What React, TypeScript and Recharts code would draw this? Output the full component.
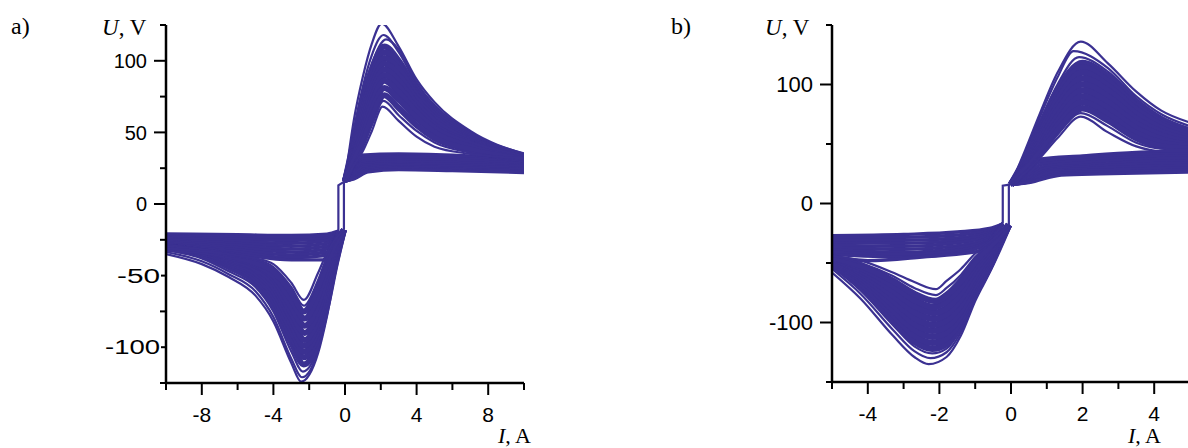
import { LineChart, Line, XAxis, YAxis } from 'recharts';

const INK = '#3b3192';
const FONT = '"Liberation Sans", Arial, sans-serif';
const SERIF = '"Liberation Serif", "Times New Roman", serif';

// each curve is a flat list of I, U pairs (A, V)

// ---- panel a) ----
const A_X_TICKS = [-10, -8, -6, -4, -2, 0, 2, 4, 6, 8, 10];
const A_Y_TICKS = [-125, -100, -75, -50, -25, 0, 25, 50, 75, 100, 125];

const A_POS_OUT = [
  [0, 16, 0.5, 59, 1, 89, 1.5, 112, 2.05, 126, 3, 110, 4, 87, 5, 71, 7, 51, 10, 35],
  [0, 16, 0.5, 52, 1, 82, 1.5, 104, 2.15, 118, 3, 106, 4, 84, 5, 69, 7, 50, 10, 34],
  [0, 16, 0.5, 48, 1, 78, 1.5, 98, 2.3, 115, 3, 108, 4, 85, 5, 68, 7, 49, 10, 34],
  [0, 16, 0.5, 45, 1, 74, 1.5, 94, 2.2, 110, 3, 100, 4, 80, 5, 66, 7, 48, 10, 34],
  [0, 16, 0.5, 42, 1, 70, 1.5, 90, 2.2, 106, 3, 97, 4, 78, 5, 64, 7, 47, 10, 33],
  [0, 16, 0.5, 40, 1, 66, 1.5, 86, 2.2, 102, 3, 94, 4, 76, 5, 62, 7, 46, 10, 33],
  [0, 16, 0.5, 38, 1, 62, 1.5, 82, 2.2, 98, 3, 90, 4, 73, 5, 60, 7, 45, 10, 33],
  [0, 16, 0.5, 36, 1, 58, 1.5, 78, 2.2, 94, 3, 86, 4, 70, 5, 58, 7, 44, 10, 32],
  [0, 16, 0.5, 34, 1, 54, 1.5, 74, 2.2, 90, 3, 82, 4, 67, 5, 55, 7, 43, 10, 32],
  [0, 16, 0.5, 33, 1, 51, 1.5, 70, 2.2, 86, 3, 78, 4, 64, 5, 53, 7, 42, 10, 32],
  [0, 16, 0.5, 31, 1, 47, 1.5, 65, 2.2, 81, 3, 73, 4, 60, 5, 50, 7, 40, 10, 31],
  [0, 16, 0.5, 30, 1, 43, 1.5, 60, 2.2, 76, 3, 67, 4, 55, 5, 46, 7, 38, 10, 31],
  [0, 16, 0.5, 28, 1, 40, 1.5, 55, 2.15, 72, 3, 62, 4, 51, 5, 43, 7, 36, 10, 31],
  [0, 16, 0.5, 27, 1, 37, 1.5, 51, 2.1, 68, 3, 58, 4, 47, 5, 40, 7, 35, 10, 32],
];

const A_POS_BACK = [
  [0, 16, 0.3, 20, 0.9, 34, 3, 35, 6, 34, 10, 31],
  [0, 16, 0.3, 19.5, 1, 32.5, 3, 33.8, 6, 33, 10, 30],
  [0, 16, 0.35, 19, 1, 31, 3, 32.5, 6, 31.8, 10, 29],
  [0, 16, 0.35, 19, 1, 29.5, 3, 31, 6, 30.5, 10, 28],
  [0, 16, 0.4, 19, 1, 28, 3, 29.5, 6, 29, 10, 27],
  [0, 16, 0.4, 18.5, 1, 26.8, 3, 28.2, 6, 27.6, 10, 26],
  [0, 16, 0.4, 18, 1, 25.5, 3, 27, 6, 26.4, 10, 25],
  [0, 16, 0.45, 18, 1.1, 24.5, 3, 25.8, 6, 25.2, 10, 24],
  [0, 16, 0.5, 18, 1.2, 23.5, 3, 24.8, 6, 24.2, 10, 23],
  [0, 16, 0.5, 17.5, 1.3, 22.5, 3, 24, 6, 23.3, 10, 22],
];

const A_NEG_OUT = [
  [-10, -35, -8, -42, -6.5, -51, -5, -64, -4, -82, -3, -111, -2.45, -124, -1.5, -104, -1, -78, -0.5, -45, -0.06, -18],
  [-10, -33.5, -8, -40, -6.5, -49, -5, -61, -4, -79, -3, -108, -2.4, -121, -1.5, -102, -1, -76, -0.5, -44, -0.06, -18],
  [-10, -32, -8, -38, -6.5, -47, -5, -58, -4, -75, -3, -103, -2.35, -117, -1.5, -100, -1, -74, -0.5, -43, -0.06, -18],
  [-10, -31, -8, -36, -6.5, -44, -5, -55, -4, -71, -3, -97, -2.3, -112, -1.5, -96, -1, -71, -0.5, -41, -0.06, -18],
  [-10, -30, -8, -35, -6.5, -42, -5, -52, -4, -67, -3, -92, -2.3, -107, -1.5, -92, -1, -68, -0.5, -40, -0.06, -18],
  [-10, -30, -8, -34, -6.5, -41, -5, -50, -4, -64, -3, -88, -2.3, -103, -1.5, -88, -1, -65, -0.5, -38, -0.06, -18],
  [-10, -30, -8, -34, -6.5, -40, -5, -48, -4, -61, -3, -84, -2.3, -99, -1.5, -84, -1, -62, -0.5, -36, -0.06, -18],
  [-10, -30, -8, -34, -6.5, -39, -5, -46, -4, -58, -3, -80, -2.25, -95, -1.5, -80, -1, -58, -0.5, -34, -0.06, -18],
  [-10, -30, -8, -33, -6.5, -38, -5, -45, -4, -55, -3, -76, -2.25, -90, -1.5, -75, -1, -54, -0.5, -32, -0.06, -18],
  [-10, -30, -8, -33, -6.5, -37, -5, -43, -4, -52, -3, -72, -2.25, -85, -1.5, -70, -1, -50, -0.5, -30, -0.06, -18],
  [-10, -30, -8, -33, -6.5, -37, -5, -42, -4, -50, -3, -67, -2.25, -80, -1.5, -64, -1, -45, -0.5, -28, -0.06, -18],
  [-10, -31, -8, -33, -6.5, -36, -5, -41, -4, -47, -3, -62, -2.3, -75, -1.5, -58, -1, -41, -0.5, -26, -0.06, -18],
  [-10, -31, -8, -33, -6.5, -36, -5, -39, -4, -44, -3, -58, -2.3, -71, -1.5, -53, -1, -37, -0.5, -25, -0.06, -18],
  [-10, -31, -8, -33, -6.5, -35, -5, -38, -4, -42, -3, -55, -2.3, -67, -1.5, -48, -1, -34, -0.5, -24, -0.06, -18],
];

const A_NEG_BACK = [
  [-10, -21, -6, -21.5, -3, -22, -1, -21, -0.37, -19],
  [-10, -22, -6, -23, -3, -23.5, -1, -22.5, -0.37, -19],
  [-10, -23, -6, -24.5, -3, -25.5, -1, -24, -0.37, -19],
  [-10, -24, -6, -26, -3, -27.5, -1, -25.5, -0.37, -19],
  [-10, -25, -6, -27.5, -3, -29.5, -1, -27.5, -0.37, -19],
  [-10, -26, -6, -29, -3, -31.5, -1, -29.5, -0.37, -19],
  [-10, -27, -6, -30.5, -3, -33.5, -1, -31.5, -0.37, -19],
  [-10, -28, -6, -32, -3, -35.5, -1, -33.5, -0.37, -19],
  [-10, -28.5, -6, -33.5, -3, -37.5, -1.1, -36, -0.37, -19],
  [-10, -29, -6, -35, -3, -39, -1.25, -39, -0.6, -28, -0.37, -19],
];

const A_JUMPS = [
  [-0.37, -20, -0.37, 13, 0, 16],
  [-0.06, -18, -0.06, 16, 0.1, 18],
  [10, 22, 10, 35],
  [-10, -21, -10, -35],
];

// ---- panel b) ----
const B_X_TICKS = [-5, -4, -3, -2, -1, 0, 1, 2, 3, 4, 5];
const B_Y_TICKS = [-150, -100, -50, 0, 50, 100, 150];

const B_POS_OUT = [
  [0, 16, 0.4, 45, 0.8, 75, 1.3, 110, 1.95, 136, 2.7, 118, 3.5, 94, 4.2, 78, 5, 68],
  [0, 16, 0.4, 42, 0.8, 72, 1.3, 106, 1.75, 128, 2.7, 114, 3.5, 90, 4.2, 75, 5, 65],
  [0, 16, 0.4, 40, 0.8, 68, 1.3, 100, 1.9, 123, 2.7, 111, 3.5, 88, 4.2, 73, 5, 63],
  [0, 16, 0.4, 38, 0.8, 64, 1.3, 95, 2, 118, 2.7, 107, 3.5, 85, 4.2, 70, 5, 61],
  [0, 16, 0.4, 36, 0.8, 61, 1.3, 91, 2, 114, 2.7, 103, 3.5, 82, 4.2, 68, 5, 59],
  [0, 16, 0.4, 35, 0.8, 58, 1.3, 87, 2, 110, 2.7, 99, 3.5, 79, 4.2, 66, 5, 57],
  [0, 16, 0.4, 33, 0.8, 55, 1.3, 82, 2, 105, 2.7, 95, 3.5, 75, 4.2, 63, 5, 55],
  [0, 16, 0.4, 32, 0.8, 52, 1.3, 78, 2, 100, 2.7, 90, 3.5, 71, 4.2, 60, 5, 53],
  [0, 16, 0.4, 31, 0.8, 49, 1.3, 73, 2, 95, 2.7, 85, 3.5, 67, 4.2, 57, 5, 51],
  [0, 16, 0.4, 30, 0.8, 46, 1.3, 69, 2, 90, 2.7, 80, 3.5, 63, 4.2, 54, 5, 49],
  [0, 16, 0.4, 29, 0.8, 44, 1.3, 65, 2, 85, 2.7, 75, 3.5, 59, 4.2, 51, 5, 48],
  [0, 16, 0.4, 28, 0.8, 42, 1.3, 61, 2, 80, 2.7, 70, 3.5, 55, 4.2, 48, 5, 46],
  [0, 16, 0.4, 27, 0.8, 40, 1.3, 58, 1.95, 76, 2.7, 65, 3.5, 51, 4.2, 46, 5, 45],
  [0, 16, 0.4, 26, 0.8, 38, 1.3, 55, 1.95, 73, 2.7, 60, 3.5, 48, 4.2, 44, 5, 44],
];

const B_POS_BACK = [
  [0, 16, 0.3, 20, 0.75, 37, 2, 40, 3.5, 43, 5, 44],
  [0, 16, 0.3, 19.5, 0.8, 35, 2, 38, 3.5, 41, 5, 42],
  [0, 16, 0.3, 19, 0.85, 33, 2, 36, 3.5, 39, 5, 40],
  [0, 16, 0.35, 19, 0.9, 31, 2, 34, 3.5, 37, 5, 38],
  [0, 16, 0.35, 18.5, 0.95, 29.5, 2, 32, 3.5, 35, 5, 36],
  [0, 16, 0.4, 18.5, 1, 28, 2, 30.5, 3.5, 33, 5, 34],
  [0, 16, 0.4, 18, 1.05, 27, 2, 29, 3.5, 31, 5, 32],
  [0, 16, 0.45, 18, 1.1, 26, 2, 27.5, 3.5, 29, 5, 30],
  [0, 16, 0.5, 18, 1.2, 24.5, 2, 26, 3.5, 27, 5, 28],
  [0, 16, 0.5, 17.5, 1.4, 24, 2.5, 25, 3.5, 25.5, 5, 26.5],
];

const B_NEG_OUT = [
  [-5, -58, -4.2, -80, -3.3, -111, -2.7, -129, -2.3, -135, -1.8, -129, -1.4, -111, -1, -82, -0.5, -52, -0.06, -18],
  [-5, -55, -4.2, -76, -3.3, -106, -2.7, -124, -2.25, -130, -1.8, -125, -1.4, -108, -1, -80, -0.5, -51, -0.06, -18],
  [-5, -53, -4.2, -73, -3.3, -102, -2.7, -120, -2.2, -126, -1.8, -122, -1.4, -105, -1, -78, -0.5, -50, -0.06, -18],
  [-5, -51, -4.2, -70, -3.3, -98, -2.7, -116, -2.2, -122, -1.8, -118, -1.4, -102, -1, -76, -0.5, -48, -0.06, -18],
  [-5, -50, -4.2, -67, -3.3, -93, -2.7, -111, -2.2, -117, -1.8, -113, -1.4, -98, -1, -73, -0.5, -46, -0.06, -18],
  [-5, -49, -4.2, -64, -3.3, -89, -2.7, -106, -2.2, -112, -1.8, -108, -1.4, -94, -1, -70, -0.5, -44, -0.06, -18],
  [-5, -48, -4.2, -62, -3.3, -85, -2.7, -101, -2.2, -107, -1.8, -103, -1.4, -90, -1, -67, -0.5, -42, -0.06, -18],
  [-5, -47, -4.2, -60, -3.3, -81, -2.7, -96, -2.2, -102, -1.8, -98, -1.4, -85, -1, -63, -0.5, -40, -0.06, -18],
  [-5, -46, -4.2, -58, -3.3, -77, -2.7, -91, -2.15, -97, -1.8, -93, -1.4, -80, -1, -60, -0.5, -38, -0.06, -18],
  [-5, -46, -4.2, -56, -3.3, -73, -2.7, -86, -2.15, -92, -1.8, -88, -1.4, -75, -1, -56, -0.5, -36, -0.06, -18],
  [-5, -45, -4.2, -54, -3.3, -69, -2.7, -81, -2.15, -87, -1.8, -82, -1.4, -70, -1, -52, -0.5, -34, -0.06, -18],
  [-5, -45, -4.2, -52, -3.3, -65, -2.7, -76, -2.1, -82, -1.8, -77, -1.4, -65, -1, -49, -0.5, -33, -0.06, -18],
  [-5, -44, -4.2, -50, -3.3, -61, -2.7, -71, -2.1, -77, -1.8, -71, -1.4, -60, -1, -45, -0.5, -31, -0.06, -18],
  [-5, -44, -4.2, -48, -3.3, -58, -2.7, -66, -2.1, -72, -1.8, -65, -1.4, -55, -1, -42, -0.5, -30, -0.06, -18],
];

const B_NEG_BACK = [
  [-5, -27, -3, -26, -1.5, -24, -0.6, -21, -0.23, -17],
  [-5, -29, -3, -28.5, -1.5, -26.5, -0.6, -22.5, -0.23, -17],
  [-5, -31, -3, -31, -1.5, -29, -0.6, -24, -0.23, -17],
  [-5, -33, -3, -33.5, -1.5, -31, -0.6, -25.5, -0.23, -17],
  [-5, -35, -3, -36, -1.5, -33, -0.6, -27, -0.23, -17],
  [-5, -37, -3, -38.5, -1.5, -35.5, -0.6, -28.5, -0.23, -17],
  [-5, -39, -3, -41, -1.5, -37.5, -0.6, -30, -0.23, -17],
  [-5, -41, -3, -43, -1.5, -39.5, -0.6, -31.5, -0.23, -17],
  [-5, -43, -3, -45, -1.5, -41.5, -0.7, -34, -0.23, -17],
  [-5, -45, -4, -48, -2.5, -45, -0.9, -40, -0.5, -30, -0.23, -17],
];

const B_JUMPS = [
  [-0.23, -17, -0.23, 15, 0, 16],
  [-0.06, -18, -0.06, 16, 0.1, 18],
];

// stretched negative labels of panel a), as printed
const A_NEG_LABEL_WIDTH: Record<string, number> = { '-50': 43, '-100': 55 };

const toPts = (arr: number[]) => {
  const out: { x: number; y: number }[] = [];
  for (let i = 0; i < arr.length; i += 2) out.push({ x: arr[i], y: arr[i + 1] });
  return out;
};

function YTick(props: any) {
  const { x, y, payload, step, fontSize, negWidths } = props;
  const v = payload.value;
  const major = v % step === 0;
  const stretched = negWidths && negWidths[String(v)];
  const len = !major ? 6 : stretched ? 5 : 12;
  const gap = stretched ? 6 : 19;
  return (
    <g>
      <line x1={x - len} x2={x} y1={y} y2={y} stroke="#000" strokeWidth={2} />
      {major && (
        <text
          x={x - gap}
          y={y}
          dy="0.36em"
          textAnchor="end"
          fontFamily={FONT}
          fontSize={fontSize}
          fill="#000"
          textLength={stretched || undefined}
          lengthAdjust={stretched ? 'spacingAndGlyphs' : undefined}
        >
          {v}
        </text>
      )}
    </g>
  );
}

function XTick(props: any) {
  const { x, y, payload, step } = props;
  const v = payload.value;
  const major = v % step === 0;
  return (
    <g>
      <line x1={x} x2={x} y1={y} y2={y + (major ? 12 : 7)} stroke="#000" strokeWidth={2} />
      {major && (
        <text x={x} y={y + 39} textAnchor="middle" fontFamily={FONT} fontSize={21} fill="#000">
          {v}
        </text>
      )}
    </g>
  );
}

interface PanelProps {
  axisX: number;
  height: number;
  xDomain: [number, number];
  yDomain: [number, number];
  xTicks: number[];
  yTicks: number[];
  xStep: number;
  yStep: number;
  yFont: number;
  fillWidth: number;
  negWidths?: Record<string, number>;
  outs: number[][];
  backs: number[][];
  jumps: number[][];
}

function Panel(p: PanelProps) {
  const lineProps = { dataKey: 'y', stroke: INK, dot: false, activeDot: false, isAnimationActive: false } as const;
  // outermost and innermost cycles stay thin, the crowded middle ones fill the band
  const outWidth = (i: number, n: number) => (i < 3 || i >= n - 2 ? 2.2 : p.fillWidth);
  return (
    <div style={{ position: 'absolute', left: p.axisX - 80, top: 15 }}>
      <LineChart width={458} height={p.height} margin={{ top: 10, right: 20, left: 0, bottom: 0 }}>
        <XAxis
          type="number"
          dataKey="x"
          domain={p.xDomain}
          ticks={p.xTicks}
          interval={0}
          allowDataOverflow
          height={55}
          tickSize={0}
          tickMargin={0}
          tickLine={false}
          axisLine={{ stroke: '#000', strokeWidth: 2.5 }}
          tick={(t: any) => <XTick {...t} step={p.xStep} />}
        />
        <YAxis
          type="number"
          domain={p.yDomain}
          ticks={p.yTicks}
          interval={0}
          allowDataOverflow
          width={80}
          tickSize={0}
          tickMargin={0}
          tickLine={false}
          axisLine={{ stroke: '#000', strokeWidth: 2.5 }}
          tick={(t: any) => <YTick {...t} step={p.yStep} fontSize={p.yFont} negWidths={p.negWidths} />}
        />
        {p.backs.map((c, i) => (
          <Line key={`b${i}`} {...lineProps} data={toPts(c)} type="monotone" strokeWidth={3.4} />
        ))}
        {p.outs.map((c, i) => (
          <Line
            key={`o${i}`}
            {...lineProps}
            data={toPts(c)}
            type="monotone"
            strokeWidth={outWidth(i % 14, 14)}
          />
        ))}
        {p.jumps.map((c, i) => (
          <Line key={`j${i}`} {...lineProps} data={toPts(c)} type="linear" strokeWidth={2.2} />
        ))}
      </LineChart>
    </div>
  );
}

export default function App() {
  const txt = { fontFamily: SERIF, fill: '#000' } as const;
  return (
    <div style={{ position: 'absolute', left: 0, top: 0, width: 1188, height: 448, overflow: 'hidden', background: '#fff' }}>
      <Panel
        axisX={166}
        height={423}
        xDomain={[-10, 10]}
        yDomain={[-125, 125]}
        xTicks={A_X_TICKS}
        yTicks={A_Y_TICKS}
        xStep={4}
        yStep={50}
        yFont={20}
        fillWidth={6}
        negWidths={A_NEG_LABEL_WIDTH}
        outs={[...A_POS_OUT, ...A_NEG_OUT]}
        backs={[...A_POS_BACK, ...A_NEG_BACK]}
        jumps={A_JUMPS}
      />
      <Panel
        axisX={832}
        height={422}
        xDomain={[-5, 5]}
        yDomain={[-150, 150]}
        xTicks={B_X_TICKS}
        yTicks={B_Y_TICKS}
        xStep={2}
        yStep={100}
        yFont={22}
        fillWidth={6.5}
        outs={[...B_POS_OUT, ...B_NEG_OUT]}
        backs={[...B_POS_BACK, ...B_NEG_BACK]}
        jumps={B_JUMPS}
      />
      <svg width={1188} height={448} style={{ position: 'absolute', left: 0, top: 0, pointerEvents: 'none' }}>
        <text x={11} y={34} fontSize={24} {...txt}>a)</text>
        <text x={102} y={35} fontSize={23} {...txt}>
          <tspan fontStyle="italic">U</tspan>, V
        </text>
        <text x={498} y={443} fontSize={22} {...txt}>
          <tspan fontStyle="italic">I</tspan>, A
        </text>
        <text x={671} y={34} fontSize={24} {...txt}>b)</text>
        <text x={765} y={35} fontSize={23} {...txt}>
          <tspan fontStyle="italic">U</tspan>, V
        </text>
        <text x={1128} y={443} fontSize={22} {...txt}>
          <tspan fontStyle="italic">I</tspan>, A
        </text>
      </svg>
    </div>
  );
}
